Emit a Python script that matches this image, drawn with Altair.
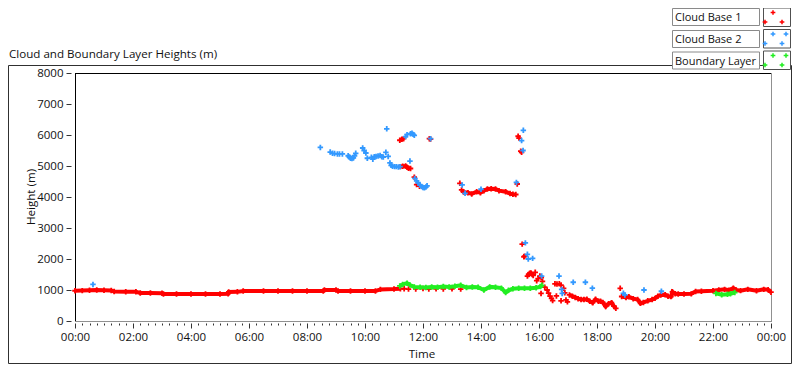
import altair as alt
import pandas as pd

FONT = "Open Sans"

# ---------------- data ----------------
series_names = ["Cloud Base 1", "Cloud Base 2", "Boundary Layer"]
series_colors = ["#ff0000", "#3399ff", "#22ee22"]

x_tick_hours = [i * 0.25 for i in range(97)]
y_tick_values = [0, 1000, 2000, 3000, 4000, 5000, 6000, 7000, 8000]

# Cloud Base 1 - continuous runs (segment id per run)
cb1_line_t = [0.0, 0.25, 0.5, 0.75, 1.0, 1.25, 1.35, 1.75, 2.1, 2.25, 2.6, 3.0, 3.05, 3.5, 4.0, 4.5, 5.0, 5.28,
              5.3, 5.6, 5.8, 6.5, 7.0, 7.5, 8.0, 8.56, 8.6, 9.0, 9.07, 9.5, 10.0, 10.36, 10.53, 11.0, 11.22,
              11.22, 11.3, 11.4, 11.45, 11.5, 11.57,
              11.2, 11.27, 11.33,
              13.33, 13.4, 13.55, 13.68, 13.85, 13.98, 14.1, 14.22, 14.35, 14.5, 14.62, 14.85, 15.0, 15.1, 15.2,
              15.6, 15.64, 15.68, 15.72, 15.77, 15.8,
              17.05, 17.15, 17.25, 17.35, 17.45, 17.55, 17.65, 17.75, 17.85, 17.95, 18.05, 18.12, 18.2, 18.3,
              18.4, 18.5, 18.58, 18.65,
              18.85, 19.0, 19.1, 19.25, 19.4, 19.5, 19.6, 19.75, 19.9, 20.0, 20.1, 20.2, 20.35, 20.45, 20.55,
              20.6, 20.7, 20.8, 21.0, 21.25, 21.4, 21.6, 22.0, 22.2, 22.4, 22.55, 22.7, 22.8, 22.95, 23.2,
              23.5, 23.75, 23.9, 24.0]
cb1_line_h = [975, 980, 990, 1000, 995, 985, 950, 945, 940, 905, 900, 895, 870, 870, 868, 870, 872, 880,
              935, 940, 965, 968, 970, 965, 968, 970, 1000, 1000, 965, 968, 970, 965, 1020, 1030, 1040,
              4980, 4990, 5000, 4960, 4930, 4920,
              5830, 5860, 5880,
              4230, 4160, 4140, 4100, 4170, 4140, 4200, 4260, 4265, 4260, 4205, 4170, 4110, 4090, 4080,
              1450, 1500, 1540, 1550, 1500, 1470,
              840, 800, 760, 720, 690, 690, 700, 640, 590, 700, 640, 640, 600, 470,
              560, 590, 480, 410,
              790, 760, 780, 720, 690, 570, 600, 650, 690, 730, 800, 840, 850, 800, 790,
              940, 880, 870, 870, 875, 950, 960, 975, 1000, 1020, 990, 1060, 1000, 980, 1020,
              975, 1020, 1010, 930]
cb1_line_seg = [0] * 35 + [1] * 6 + [2] * 3 + [3] * 15 + [4] * 6 + [5] * 18 + [6] * 34

# Cloud Base 1 - isolated points
cb1_pts_t = [11.35, 11.5, 11.75, 12.0, 12.2, 12.45, 12.7, 13.0, 13.3,
             12.22, 12.26, 11.70, 11.78, 11.88, 13.27,
             15.25, 15.28, 15.31, 15.37, 15.40, 15.42, 15.50, 15.48,
             15.87, 15.92, 15.97, 16.03, 16.08, 16.12, 16.07,
             16.2, 16.28, 16.33, 16.38, 16.43, 16.47,
             16.55, 16.62, 16.7, 16.76, 16.6, 16.76, 16.85, 16.89, 16.93, 16.98, 18.8]
cb1_pts_h = [1040, 1030, 1035, 1045, 1030, 1040, 1035, 1040, 1030,
             5880, 5870, 4640, 4400, 4350, 4440,
             4420, 5960, 5900, 5480, 5440, 2480, 2090, 2070,
             1570, 1300, 1370, 1450, 1400, 1280, 890,
             1090, 1000, 900, 800, 730, 660,
             1200, 1190, 1200, 1160, 810, 650, 1055, 910, 680, 620, 1055]

# Cloud Base 2 - points
cb2_pts_t = [0.62, 8.46, 8.80, 8.88, 8.95, 9.05, 9.12, 9.22,
             9.42, 9.46, 9.50, 9.55, 9.60, 9.64, 9.68,
             9.92, 9.97, 10.03, 10.08,
             10.22, 10.27, 10.32, 10.38, 10.45, 10.52, 10.58, 10.63,
             10.72, 10.75, 10.80,
             10.86, 10.90, 10.95, 11.02, 11.08, 11.15, 11.21,
             11.40, 11.45, 11.57, 11.62, 11.66, 11.70, 11.55,
             11.72, 11.78, 11.83, 11.90, 11.95, 12.00, 12.05, 12.10, 12.14,
             12.26, 13.35, 13.45, 14.00, 15.22, 15.46, 15.40, 15.45,
             15.53, 15.60, 15.63, 15.78,
             16.09, 16.69, 16.78, 16.80, 17.18, 17.60, 17.84, 18.91, 18.96, 19.62, 20.22]
cb2_pts_h = [1180, 5600, 5450, 5410, 5400, 5390, 5390, 5390,
             5330, 5290, 5250, 5240, 5260, 5330, 5410,
             5580, 5500, 5420, 5250,
             5280, 5220, 5300, 5310, 5320, 5340, 5300, 5290,
             5440, 6200, 5310,
             5100, 5020, 4990, 4980, 4980, 4970, 4980,
             5950, 6010, 6040, 6060, 6020, 5990, 5160,
             4600, 4520, 4460, 4380, 4340, 4310, 4300, 4320, 4360,
             5880, 4390, 4120, 4250, 4470, 6150, 5820, 5500,
             2520, 2150, 2000, 2020,
             1450, 1450, 1020, 890, 1250, 1250, 1060, 893, 840, 1000, 960]

# Boundary Layer - continuous runs
bl_line_t = [11.2, 11.3, 11.45, 11.55, 11.7, 11.9, 12.1, 12.3, 12.5, 12.7, 12.9, 13.1, 13.3, 13.5, 13.7,
             13.9, 14.1, 14.3, 14.5, 14.7, 14.85, 14.95, 15.1, 15.3, 15.5, 15.7, 15.9, 16.05, 16.1,
             22.1, 22.3, 22.5, 22.6, 22.75]
bl_line_h = [1130, 1180, 1220, 1160, 1100, 1090, 1080, 1100, 1090, 1110, 1100, 1120, 1150, 1080, 1100,
             1090, 1000, 1100, 1090, 1060, 920, 990, 1040, 1060, 1060, 1060, 1070, 1110, 1150,
             890, 850, 860, 880, 920]
bl_line_seg = [0] * 29 + [1] * 5

# ---------------- frames ----------------
cb1_line = pd.DataFrame({"t": cb1_line_t, "h": cb1_line_h, "seg": cb1_line_seg, "series": series_names[0]})
cb1_pts = pd.DataFrame({"t": cb1_pts_t + cb1_line_t, "h": cb1_pts_h + cb1_line_h, "series": series_names[0]})
cb2_pts = pd.DataFrame({"t": cb2_pts_t, "h": cb2_pts_h, "series": series_names[1]})
bl_line = pd.DataFrame({"t": bl_line_t, "h": bl_line_h, "seg": bl_line_seg, "series": series_names[2]})
bl_pts = pd.DataFrame({"t": bl_line_t, "h": bl_line_h, "series": series_names[2]})

W, H = 696, 248
def px(x):
    return x - 75
def py(y):
    return y - 73

CROSS = "M-1,0L1,0M0,-1L0,1"

x_axis = alt.Axis(
    values=x_tick_hours, title=None, grid=False, domain=False, offset=2, zindex=1,
    tickColor="#333333", tickWidth=1,
    tickSize={"condition": {"test": "datum.value % 2 === 0", "value": 5}, "value": 2},
    labelExpr="datum.value % 2 === 0 ? ((datum.value % 24) < 10 ? '0' : '') + (datum.value % 24) + ':00' : ''",
    labelOverlap=False, labelFlush=False, labelBound=False, labelPadding=3,
    labelFont=FONT, labelFontSize=11.5, labelColor="#111111",
)
y_axis = alt.Axis(
    values=y_tick_values, title=None, grid=False, domain=False, offset=4, format="d", zindex=1,
    tickColor="#333333", tickSize=5, labelPadding=3,
    labelFont=FONT, labelFontSize=11.5, labelColor="#111111",
)
X = alt.X("t:Q", scale=alt.Scale(domain=[0, 24], nice=False, zero=False), axis=x_axis)
Y = alt.Y("h:Q", scale=alt.Scale(domain=[0, 8000], nice=False, zero=False), axis=y_axis)
C = alt.Color("series:N", scale=alt.Scale(domain=series_names, range=series_colors), legend=None)

one = pd.DataFrame({"a": [0]})

def rect(x1, x2, y1, y2, stroke, fill="white", sw=1):
    return alt.Chart(one).mark_rect(fill=fill, stroke=stroke, strokeWidth=sw).encode(
        x=alt.value(px(x1)), x2=alt.value(px(x2)), y=alt.value(py(y1)), y2=alt.value(py(y2)))

def rule(x1, x2, y1, y2, color):
    return alt.Chart(one).mark_rule(color=color, strokeWidth=1).encode(
        x=alt.value(px(x1)), x2=alt.value(px(x2)), y=alt.value(py(y1)), y2=alt.value(py(y2)))

def text(s, x, y, align="left", angle=0, baseline="alphabetic", size=11.6):
    return alt.Chart(one).mark_text(text=s, align=align, baseline=baseline, angle=angle,
                                    font=FONT, fontSize=size, color="#111111").encode(
        x=alt.value(px(x)), y=alt.value(py(y)))

frame = alt.Chart(one).mark_rect(fillOpacity=0, stroke="#303030", strokeWidth=1).encode(
    x=alt.value(px(8.5)), x2=alt.value(px(791.5)), y=alt.value(py(65.5)), y2=alt.value(py(363.5)))

borders = [
    rule(75, 771, 73.5, 73.5, "#000000"),
    rule(75.5, 75.5, 73, 322, "#000000"),
    rule(771.5, 771.5, 73, 322, "#909090"),
    rule(75, 772, 321.5, 321.5, "#909090"),
]

lines_cb1 = alt.Chart(cb1_line).mark_line(strokeWidth=4).encode(x=X, y=Y, color=C, detail="seg:N")
pts_cb1 = alt.Chart(cb1_pts).mark_point(shape=CROSS, filled=False, size=30, strokeWidth=1.8, opacity=1).encode(x=X, y=Y, color=C)
pts_cb2 = alt.Chart(cb2_pts).mark_point(shape=CROSS, filled=False, size=30, strokeWidth=1.8, opacity=1).encode(x=X, y=Y, color=C)
lines_bl = alt.Chart(bl_line).mark_line(strokeWidth=4).encode(x=X, y=Y, color=C, detail="seg:N")
pts_bl = alt.Chart(bl_pts).mark_point(shape=CROSS, filled=False, size=30, strokeWidth=1.8, opacity=1).encode(x=X, y=Y, color=C)

labels = [
    text("Cloud and Boundary Layer Heights (m)", 9, 57.5),
    text("Height (m)", 32, 197, align="center", angle=270, baseline="middle"),
    text("Time", 422, 357.5, align="center"),
]

# legend (shifted slightly left to stay inside the drawable page)
LX = -4
leg_rows = [(8.5, 25.5), (30.5, 47.5), (52, 69)]
samp_rows = [(8, 26.5), (29.5, 48), (51, 69.5)]
legend = []
for i, name in enumerate(series_names):
    y1, y2 = leg_rows[i]
    legend.append(rect(676.5 + LX, 763.5 + LX, y1, y2, "#8a8a8a"))
    legend.append(text(name, 679 + LX, y1 + 12.8, size=11))
    s1, s2 = samp_rows[i]
    legend.append(rect(767.5 + LX, 790.5, s1, s2, "#505050"))
    marks = [(777 + LX, s1 + 4.5), (769 + LX, s1 + 14), (786 + LX, s1 + 14)]
    if i > 0:
        marks.append((790 + LX, s1 + 4.5))
    for (mx, my) in marks:
        legend.append(alt.Chart(one).mark_point(shape=CROSS, filled=False, size=22, strokeWidth=1.5,
                                                color=series_colors[i], opacity=1).encode(
            x=alt.value(px(mx)), y=alt.value(py(my))))

chart = alt.layer(
    frame, *borders, lines_cb1, pts_cb1, pts_cb2, lines_bl, pts_bl, *labels, *legend
).properties(
    width=W, height=H,
    padding={"left": 67, "top": 65, "right": 21, "bottom": 44},
    autosize=alt.AutoSizeParams(type="none"),
    background="white",
).configure_view(stroke=None)

chart.save("out.html", embed_options={"renderer": "svg", "actions": False})
